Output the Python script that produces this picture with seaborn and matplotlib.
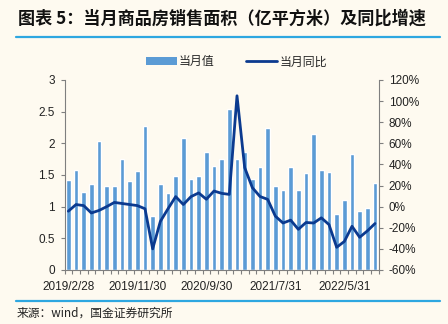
import numpy as np
import pandas as pd
import matplotlib
matplotlib.use('Agg')
import matplotlib.pyplot as plt
import seaborn as sns
from matplotlib.lines import Line2D
from matplotlib.patches import Patch

# ---------------- data ----------------
months = [d for d in pd.date_range('2019-02-28', '2022-09-30', freq='ME') if d.month != 1]
dates = [f"{d.year}/{d.month}/{d.day}" for d in months]

area = [1.42, 1.58, 1.23, 1.35, 2.04, 1.32, 1.32, 1.75, 1.41, 1.57, 2.27,
        0.86, 1.36, 1.21, 1.48, 2.08, 1.43, 1.49, 1.87, 1.635, 1.76, 2.54,
        1.75, 1.87, 1.43, 1.62, 2.24, 1.32, 1.26, 1.62, 1.27, 1.53, 2.14,
        1.58, 1.55, 0.88, 1.10, 1.83, 0.93, 0.98, 1.37]
yoy = [-4.3, 2, 1, -6, -3.6, 0, 4, 3, 2, 1, -2,
       -40, -14, -2, 9.5, 2, 9.5, 13, 7, 14.8, 12.6, 11.6,
       105, 37, 18, 9.6, 6.9, -9, -15.5, -12.8, -21.5, -15, -15.5,
       -10.6, -17, -38.5, -33, -18.6, -29, -23, -16]

left_ticks = [0, 0.5, 1, 1.5, 2, 2.5, 3]
left_labels = ["0", "0.5", "1", "1.5", "2", "2.5", "3"]
right_ticks = [-60, -40, -20, 0, 20, 40, 60, 80, 100, 120]
right_labels = [f"{v}%" for v in right_ticks]

title = "图表 5：当月商品房销售面积（亿平方米）及同比增速"
source = "来源：wind，国金证券研究所"
legend_labels = ["当月值", "当月同比"]

df = pd.DataFrame({"date": dates, "area": area, "yoy": yoy})
df["pos"] = np.arange(len(df))

# ---------------- style ----------------
sns.set_theme(style="ticks")
plt.rcParams['font.family'] = ['Liberation Sans', 'Noto Sans CJK SC', 'DejaVu Sans']
BG = "#FEFAF0"
BAR = "#5B9BD5"
LINE = "#0B3A8F"
ACCENT = "#2EA7E0"
TXT = "#222222"
SPINE = "#7F7F7F"

fig = plt.figure(figsize=(4.48, 3.24), dpi=100, facecolor=BG)
ax = fig.add_axes([0.144, 0.1667, 0.7016, 0.5865])
ax.set_facecolor(BG)

sns.barplot(data=df, x="pos", y="area", color=BAR, saturation=1, width=0.62,
            ax=ax, native_scale=False)
ax2 = ax.twinx()
sns.lineplot(data=df, x="pos", y="yoy", ax=ax2, color=LINE, linewidth=2.0, sort=False)

n = len(df)
ax.set_xlim(-0.5, n - 0.5)
ax.set_ylim(0, 3)
ax2.set_ylim(-60, 120)

ax.set_xticks(np.arange(0, n, 9))
ax.set_xticklabels(dates[::9], fontsize=8.5, color=TXT)
ax.set_xticks(np.arange(-0.5, n, 1), minor=True)
ax.tick_params(axis='x', which='major', length=0, pad=8)
ax.tick_params(axis='x', which='minor', length=3, width=0.8, color=SPINE, direction='out')

ax.set_yticks(left_ticks)
ax.set_yticklabels(left_labels, fontsize=8.5, color=TXT)
ax.tick_params(axis='y', length=3, width=0.8, color=SPINE, pad=4)
ax2.set_yticks(right_ticks)
ax2.set_yticklabels(right_labels, fontsize=8.5, color=TXT)
ax2.tick_params(axis='y', length=3, width=0.8, color=SPINE, pad=4)

ax.set_xlabel("")
ax.set_ylabel("")
ax2.set_ylabel("")
for a in (ax, ax2):
    a.spines['top'].set_visible(False)
    for s in ('left', 'right', 'bottom'):
        a.spines[s].set_color(SPINE)
        a.spines[s].set_linewidth(0.8)
ax.spines['right'].set_visible(False)
ax2.spines['left'].set_visible(False)
ax2.spines['bottom'].set_visible(False)
ax.grid(False)
ax2.grid(False)

handles = [Patch(facecolor=BAR, edgecolor='none'),
           Line2D([0], [0], color=LINE, linewidth=2.0)]
fig.legend(handles, legend_labels, loc='center', bbox_to_anchor=(0.527, 0.809),
           ncol=2, frameon=False, handlelength=2.6, handleheight=0.6,
           handletextpad=0.2, columnspacing=2.6,
           prop={'family': ['Noto Sans CJK SC', 'DejaVu Sans'], 'size': 8.6})

fig.text(0.04, 0.944, title, fontsize=12.3, fontweight='bold', fontstyle='italic',
         family=['Noto Sans CJK SC', 'DejaVu Sans'], color='#111111', va='center', ha='left')
fig.add_artist(Line2D([0.036, 0.982], [0.886, 0.886], color=ACCENT, linewidth=1.6,
                      transform=fig.transFigure))
fig.add_artist(Line2D([0.036, 0.982], [0.071, 0.071], color=ACCENT, linewidth=1.6,
                      transform=fig.transFigure))
fig.text(0.036, 0.034, source, fontsize=8.5, family=['Noto Sans CJK SC', 'DejaVu Sans'],
         color=TXT, va='center', ha='left')

fig.savefig("out.png", dpi=100, facecolor=BG)
